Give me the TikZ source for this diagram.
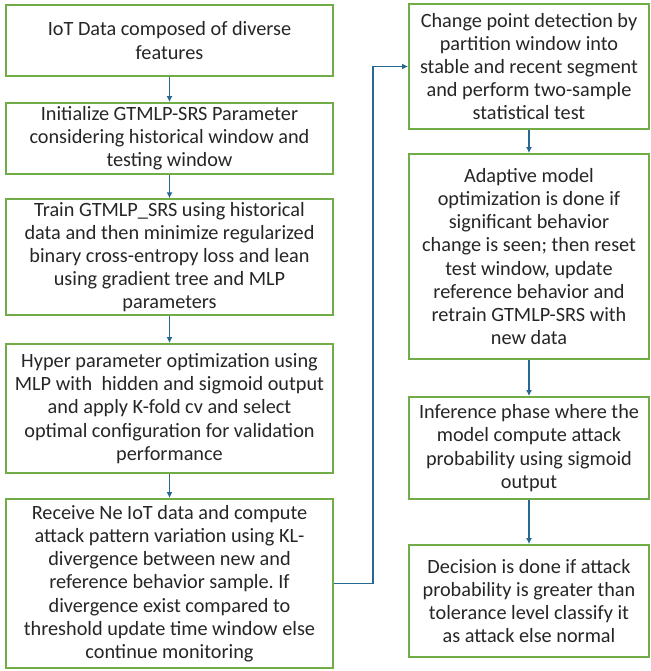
\documentclass[tikz,border=0pt]{standalone}
\usepackage{fontspec}
\setmainfont{Carlito}
\usetikzlibrary{arrows.meta}
\frenchspacing

\definecolor{boxgreen}{RGB}{112,173,71}
\definecolor{flowblue}{RGB}{38,104,145}

\begin{document}
\begin{tikzpicture}[x=0.75pt,y=-0.75pt,
    stage/.style={draw=boxgreen, line width=1.4pt, fill=white, align=center,
        font=\fontsize{15.2}{17.4}\selectfont, text=black!85, inner sep=2pt},
    lstage/.style={stage, minimum width=245pt},
    rstage/.style={stage, minimum width=180pt},
    flow/.style={draw=flowblue, line width=1.2pt, -{Latex[length=4.5pt,width=4.5pt]}}]
    \useasboundingbox (0,0) rectangle (650,671);

            % left column
            \node[lstage, minimum height=53.25pt] (data) at (169.5,40.5) {IoT Data composed of diverse\\features};
            \node[lstage, minimum height=53.25pt] (init) at (169.5,138.5) {Initialize GTMLP-SRS Parameter\\considering historical window and\\testing window};
            \node[lstage, minimum height=85.5pt] (train) at (169.5,257) {Train GTMLP\_SRS using historical\\data and then minimize regularized\\binary cross-entropy loss and lean\\using gradient tree and MLP\\parameters};
            \node[lstage, minimum height=96.75pt] (hyper) at (169.5,408.5) {Hyper parameter optimization using\\MLP with~ hidden and sigmoid output\\and apply K-fold cv and select\\optimal configuration for validation\\performance};
            \node[lstage, minimum height=126.75pt] (recv) at (169.5,583.5) {Receive Ne IoT data and compute\\attack pattern variation using KL-\\divergence between new and\\reference behavior sample. If\\divergence exist compared to\\threshold update time window else\\continue monitoring};

            % right column
            \node[rstage, minimum height=93.75pt] (change) at (529,66.5) {Change point detection by\\partition window into\\stable and recent segment\\and perform two-sample\\statistical test};
            \node[rstage, minimum height=153.75pt] (adapt) at (529,256.5) {Adaptive model\\optimization is done if\\significant behavior\\change is seen; then reset\\test window, update\\reference behavior and\\retrain GTMLP-SRS with\\new data};
            \node[rstage, minimum height=76.5pt] (infer) at (529,448) {Inference phase where the\\model compute attack\\probability using sigmoid\\output};
            \node[rstage, minimum height=84pt] (decide) at (529,601) {Decision is done if attack\\probability is greater than\\tolerance level classify it\\as attack else normal};

            \draw[flow] (data) -- (init);
            \draw[flow] (init) -- (train);
            \draw[flow] (train) -- (hyper);
            \draw[flow] (hyper) -- (recv);
            \draw[flow] (recv.east) -- ++(39,0) |- (change.west);
            \draw[flow] (change) -- (adapt);
            \draw[flow] (adapt) -- (infer);
            \draw[flow] (infer) -- (decide);
\end{tikzpicture}
\end{document}
